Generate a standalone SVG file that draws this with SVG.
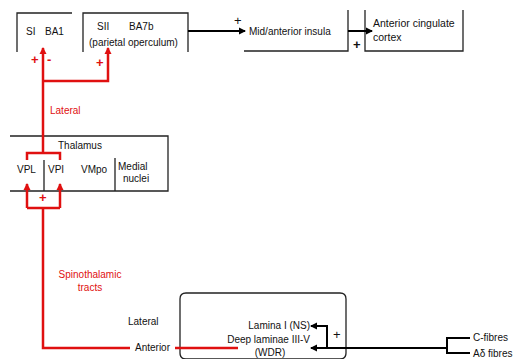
<svg xmlns="http://www.w3.org/2000/svg" width="519" height="359" viewBox="0 0 519 359">
<defs>
<marker id="ab" markerWidth="8" markerHeight="8" refX="6" refY="4" orient="auto" markerUnits="userSpaceOnUse"><path d="M0,0.5 L7,4 L0,7.5 Z" fill="#000"/></marker>
<marker id="ar" markerWidth="8" markerHeight="8" refX="6" refY="4" orient="auto" markerUnits="userSpaceOnUse"><path d="M0,0.5 L7,4 L0,7.5 Z" fill="#e01010"/></marker>
<style>
text{font-family:"Liberation Sans",Arial,sans-serif;font-size:10px;fill:#111}
.r{fill:#e01010}
.box{fill:none;stroke:#222;stroke-width:1.3}
.bl{fill:none;stroke:#000;stroke-width:2}
.rd{fill:none;stroke:#e01010;stroke-width:2.5}
.pl{font-size:13px;font-weight:bold}
</style>
</defs>
<rect width="519" height="359" fill="#fff"/>
<g id="si">
<path class="box" d="M17,52 V13 H72"/>
<text x="26" y="35">SI</text>
<text x="45" y="35">BA1</text>
</g>
<g id="sii">
<path class="box" d="M83,52 V13 H188 V52"/>
<text x="97" y="30">SII</text>
<text x="129" y="30">BA7b</text>
<text x="89" y="46">(parietal operculum)</text>
</g>
<g id="insula">
<path class="box" d="M244,51 H348 V10"/>
<text x="249" y="35">Mid/anterior insula</text>
</g>
<g id="acc">
<path class="box" d="M365,10 V51 H463 V10"/>
<text x="373" y="27" style="font-size:10.5px">Anterior cingulate</text>
<text x="373" y="41" style="font-size:10.5px">cortex</text>
</g>
<g id="thalamus">
<path class="box" d="M10,136 H168 V191 H10"/>
<path class="box" d="M44,160 V191 M115,158 V191"/>
<text x="58" y="149">Thalamus</text>
<text x="17" y="173">VPL</text>
<text x="48" y="173">VPI</text>
<text x="81" y="173">VMpo</text>
<text x="118" y="170">Medial</text>
<text x="123" y="182">nuclei</text>
</g>
<g id="dorsalhorn">
<path class="box" d="M186,293 H340 Q346,293 346,299 V353 Q346,359 340,359 H186 Q180,359 180,353 V299 Q180,293 186,293"/>
<text x="310" y="329" text-anchor="end">Lamina I (NS)</text>
<text x="310" y="343" text-anchor="end">Deep laminae III-V</text>
<text x="270" y="356" text-anchor="middle">(WDR)</text>
</g>
<g id="fibres">
<text x="473" y="341">C-fibres</text>
<text x="473" y="357">Aδ fibres</text>
</g>
<g id="labels">
<text x="50" y="114" class="r">Lateral</text>
<text x="90" y="278" class="r" text-anchor="middle">Spinothalamic</text>
<text x="90" y="291" class="r" text-anchor="middle">tracts</text>
<text x="128" y="325">Lateral</text>
<text x="135" y="351">Anterior</text>
</g>
<g id="connectors">
<path class="bl" d="M188,31 H245" marker-end="url(#ab)"/>
<path class="bl" d="M348,31 H372" marker-end="url(#ab)"/>
<path class="bl" d="M447,348 H311" marker-end="url(#ab)"/>
<path class="bl" d="M327,348 V326 H311" marker-end="url(#ab)"/>
<path class="bl" stroke-width="2.5" d="M470,338 H447 V353 H470"/>
<path class="rd" d="M43,153 V48" marker-end="url(#ar)"/>
<path class="rd" d="M43,81 H108 V48" marker-end="url(#ar)"/>
<path class="rd" d="M27,160 V153 H60 V160"/>
<path class="rd" d="M27,208 H60"/>
<path class="rd" d="M27,208 V184" marker-end="url(#ar)"/>
<path class="rd" d="M60,208 V184" marker-end="url(#ar)"/>
<path class="rd" d="M43,208 V348 H130"/>
<path class="rd" d="M175,348 H238"/>
<text x="234" y="25" class="pl" style="font-weight:normal">+</text>
<text x="353" y="49" class="pl">+</text>
<text x="333" y="339" class="pl" style="font-weight:normal">+</text>
<text x="31" y="64" class="r pl">+</text>
<text x="47" y="64" class="r pl">-</text>
<text x="96" y="67" class="r pl">+</text>
<text x="39" y="202" class="r pl">+</text>
</g>
</svg>
